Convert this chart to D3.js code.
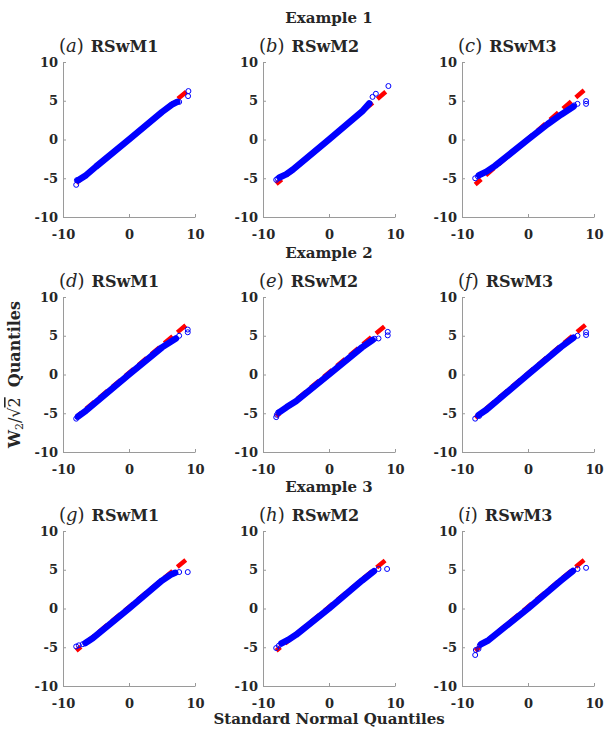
<!DOCTYPE html>
<html><head><meta charset="utf-8">
<script src="https://cdn.jsdelivr.net/npm/d3@7"></script>
<style>body{margin:0;background:#fff}</style>
</head><body>
<script>
// ---------- data ----------
const exampleTitles = ["Example 1", "Example 2", "Example 3"];
const panelLetters = ["a","b","c","d","e","f","g","h","i"];
const methodNames = ["RSwM1","RSwM2","RSwM3"];
const xTicks = [-10, 0, 10];
const yTicks = [-10, -5, 0, 5, 10];
const xLabel = "Standard Normal Quantiles";
const yLabelTail = "Quantiles";

// reference (fitted) line end points per panel: [x1, y1, x2, y2]
const refLines = [
  [-8.0,-5.6, 8.7, 6.15],
  [-8.0,-5.75, 8.6, 6.15],
  [-8.0,-5.8, 8.5, 6.35],
  [-8.0,-5.5, 8.6, 6.35],
  [-8.0,-5.4, 8.4, 6.2],
  [-8.0,-5.6, 8.7, 6.4],
  [-8.0,-5.45, 8.6, 6.25],
  [-8.0,-5.45, 8.5, 6.2],
  [-8.0,-5.45, 8.5, 6.25]
];
// dense body of sample quantiles per panel: [x, y]
const bodyQuantiles = [
  [[-7.7,-5.25],[-6.5,-4.6],[-5,-3.5],[0,0],[5,3.55],[6.5,4.5],[7.3,4.85]],
  [[-7.5,-4.9],[-6.5,-4.5],[-5.5,-3.9],[0,0],[5,3.6],[6.1,4.65]],
  [[-7.4,-4.6],[-6.3,-4.15],[-5,-3.4],[0,0],[3,2.0],[5,3.2],[6.9,4.25]],
  [[-7.7,-5.4],[-6.5,-4.65],[0,0],[5,3.5],[7.1,4.65]],
  [[-7.5,-4.85],[-6.4,-4.2],[-5,-3.45],[0,0],[5,3.5],[6.6,4.45]],
  [[-7.5,-5.25],[-6.3,-4.55],[0,0],[5,3.55],[6.9,4.75]],
  [[-6.6,-4.45],[-5.5,-3.85],[0,0],[5,3.6],[6.3,4.35],[7.0,4.6]],
  [[-7.2,-4.5],[-6.2,-4.05],[-5,-3.4],[0,0],[5,3.6],[6.8,4.8]],
  [[-7.1,-4.6],[-6,-4.1],[0,0],[5,3.6],[6.8,4.85]]
];
// isolated extreme quantiles per panel: [x, y]
const tailQuantiles = [
  [[-8.0,-5.85],[-7.9,-5.25],[7.6,4.85],[9.0,6.25],[8.95,5.6]],
  [[-8.0,-5.2],[-7.8,-5.05],[6.6,5.5],[7.1,5.9],[9.0,6.9]],
  [[-8.0,-5.0],[-7.6,-4.75],[7.0,4.4],[7.5,4.6],[8.8,4.95],[8.8,4.6]],
  [[-8.0,-5.7],[-7.8,-5.5],[7.6,5.0],[8.9,5.8],[8.9,5.45]],
  [[-8.0,-5.5],[-7.9,-5.2],[-7.7,-4.9],[6.9,4.6],[7.5,4.65],[8.9,5.05],[8.9,5.5]],
  [[-8.0,-5.7],[-7.4,-5.35],[7.5,5.0],[8.8,5.1],[8.8,5.45]],
  [[-8.0,-4.9],[-7.6,-4.75],[-7.0,-4.6],[7.6,4.7],[8.9,4.7]],
  [[-8.0,-5.1],[-7.6,-4.8],[7.5,5.1],[8.8,5.1]],
  [[-8.0,-6.0],[-7.9,-5.35],[-7.5,-5.2],[-7.3,-4.75],[7.5,5.1],[8.8,5.25]]
];

// ---------- layout ----------
const W = 612, H = 740;
const colLeft = [63, 263, 462];
const rowTop = [62, 297, 531];
const pw = 132, ph = 155;
const serif = "'DejaVu Serif', serif";
const axisGrey = "#9a9a9a";
const textCol = "#262626";

const svg = d3.select("body").append("svg").attr("width", W).attr("height", H)
  .style("font-family", serif);

const x = d3.scaleLinear().domain([-10, 10]).range([0, pw]);
const y = d3.scaleLinear().domain([-10, 10]).range([ph, 0]);
const line = d3.line().x(d => x(d[0])).y(d => y(d[1]));

// example titles
exampleTitles.forEach((t, r) => {
  svg.append("text").attr("x", colLeft[1] + pw / 2).attr("y", rowTop[r] - 39)
    .attr("text-anchor", "middle").attr("font-size", 15).attr("font-weight", "bold")
    .attr("fill", textCol).text(t);
});

panelLetters.forEach((letter, i) => {
  const r = Math.floor(i / 3), c = i % 3;
  const g = svg.append("g").attr("transform", `translate(${colLeft[c]},${rowTop[r]})`);

  // axes
  const ax = g.append("g").attr("transform", `translate(0,${ph})`)
    .call(d3.axisBottom(x).tickValues(xTicks).tickFormat(d => String(d))
      .tickSizeInner(-3).tickSizeOuter(0).tickPadding(13));
  const ay = g.append("g")
    .call(d3.axisLeft(y).tickValues(yTicks).tickFormat(d => String(d))
      .tickSizeInner(-3).tickSizeOuter(0).tickPadding(5));
  [ax, ay].forEach(a => {
    a.select(".domain").attr("stroke", axisGrey);
    a.selectAll(".tick line").attr("stroke", axisGrey);
    a.selectAll(".tick text").attr("fill", textCol).attr("font-size", 13)
      .attr("font-weight", "bold").attr("font-family", serif);
  });

  // reference line (drawn from upper end so a full dash sits at the top)
  const rl = refLines[i];
  g.append("path").datum([[rl[2], rl[3]], [rl[0], rl[1]]])
    .attr("d", line).attr("fill", "none").attr("stroke", "#ff0000")
    .attr("stroke-width", 4.5).attr("stroke-dasharray", "11,6");

  // body
  g.append("path").datum(bodyQuantiles[i]).attr("d", line)
    .attr("fill", "none").attr("stroke", "#0000ff").attr("stroke-width", 6.5)
    .attr("stroke-linecap", "round").attr("stroke-linejoin", "round");

  // tails
  g.selectAll("circle.t").data(tailQuantiles[i]).enter().append("circle")
    .attr("cx", d => x(d[0])).attr("cy", d => y(d[1])).attr("r", 2.5)
    .attr("fill", "none").attr("stroke", "#0000ff").attr("stroke-width", 1);

  // title
  const t = svg.append("text").attr("x", colLeft[c] - 4).attr("y", rowTop[r] - 10)
    .attr("fill", textCol);
  t.append("tspan").attr("font-size", 18).text("(");
  t.append("tspan").attr("font-size", 18).attr("font-style", "italic").text(letter);
  t.append("tspan").attr("font-size", 18).text(")");
  t.append("tspan").attr("font-size", 16).attr("font-weight", "bold").attr("dx", 7)
    .text(methodNames[c]);
});

// y label
const yl = svg.append("text")
  .attr("transform", `translate(20,${(rowTop[1] + ph / 2)}) rotate(-90)`)
  .attr("text-anchor", "middle").attr("fill", textCol).attr("font-size", 16);
yl.append("tspan").attr("font-weight", "bold").text("W");
yl.append("tspan").attr("font-size", 11).attr("dy", 3).text("2");
yl.append("tspan").attr("dy", -3).text("/√");
yl.append("tspan").attr("text-decoration", "overline").text("2");
yl.append("tspan").attr("font-weight", "bold").attr("dx", 10).text(yLabelTail);

// x label
svg.append("text").attr("x", colLeft[1] + pw / 2).attr("y", 724)
  .attr("text-anchor", "middle").attr("fill", textCol).attr("font-size", 15)
  .attr("font-weight", "bold").text(xLabel);
</script>
</body></html>
